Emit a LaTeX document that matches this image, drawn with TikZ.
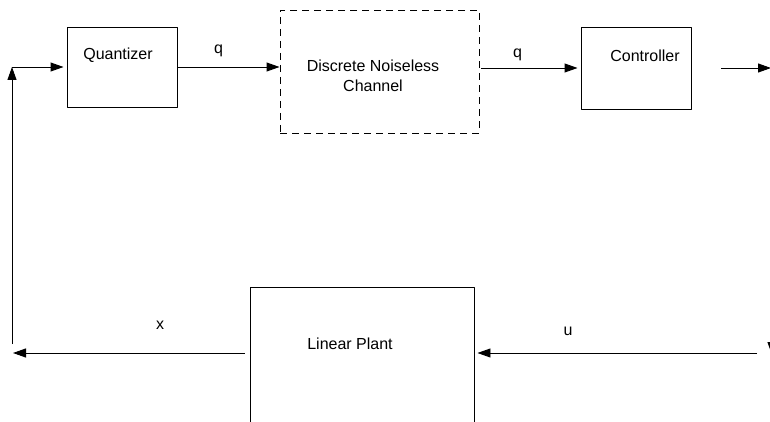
\documentclass[tikz,border=0pt]{standalone}
\usepackage{fontspec}
\setmainfont{Liberation Sans}
\usetikzlibrary{arrows.meta}
\tikzset{
  blk/.style={draw,inner sep=0pt,minimum width=#1},
  lbl/.style={inner sep=0pt},
}
\begin{document}
\begin{tikzpicture}[x=1pt,y=-1pt,line width=0.95pt,line join=round,
    font=\fontsize{16}{20}\selectfont,>={Triangle[length=13pt,width=9pt]}]
  \useasboundingbox (0,0) rectangle (770,422);
  \clip (0,0) rectangle (770,422);
  % blocks
  \node[blk=110pt,minimum height=80pt] (quant) at (122,67) {};
  \node[blk=199pt,minimum height=123pt,dashed,dash pattern=on 7pt off 5pt] (chan) at (379.5,71.5) {};
  \node[blk=110pt,minimum height=82pt] (ctrl) at (636,68) {};
  \node[blk=224pt,minimum height=170pt] (plant) at (362,372) {};
  % block texts
  \node[lbl] (tquant) at (118,55.5) {Quantizer};
  \node[lbl,align=center] (tchan) at (373,76) {Discrete Noiseless\\Channel};
  \node[lbl] (tctrl) at (645,55.5) {Controller};
  \node[lbl] (tplant) at (350,344) {Linear Plant};
  % free ends
  \path
  (771,68) coordinate (cout)
  (772,320) coordinate (vtop)
  (772,355) coordinate (vbot)
  (757,353) coordinate (uin)
  (13,353) coordinate (xend)
  (12,344) coordinate (fbot)
  (12,67) coordinate (ftop)
  ;
  % connectors
  \draw[->] (quant) -- (quant -| chan.west);
  \draw[->,shorten <=2pt,shorten >=3pt] (chan.east |- ctrl) -- (ctrl);
  \draw[->,shorten <=30pt] (ctrl) -- (cout);
  \draw[->] (vtop) -- (vbot);
  \draw[->,shorten >=3pt] (uin) -- (uin -| plant.east);
  \draw[->,shorten <=5pt] (plant.west |- xend) -- (xend);
  \draw[->] (fbot) -- (ftop);
  \draw[->,shorten >=3pt] (ftop) -- (quant.west |- ftop);
  % signal labels
  \node[lbl] (lq1) at (218.5,51) {q};
  \node[lbl] (lq2) at (517.5,54.5) {q};
  \node[lbl] (lx) at (160,325) {x};
  \node[lbl] (lu) at (568,331) {u};
\end{tikzpicture}
\end{document}
